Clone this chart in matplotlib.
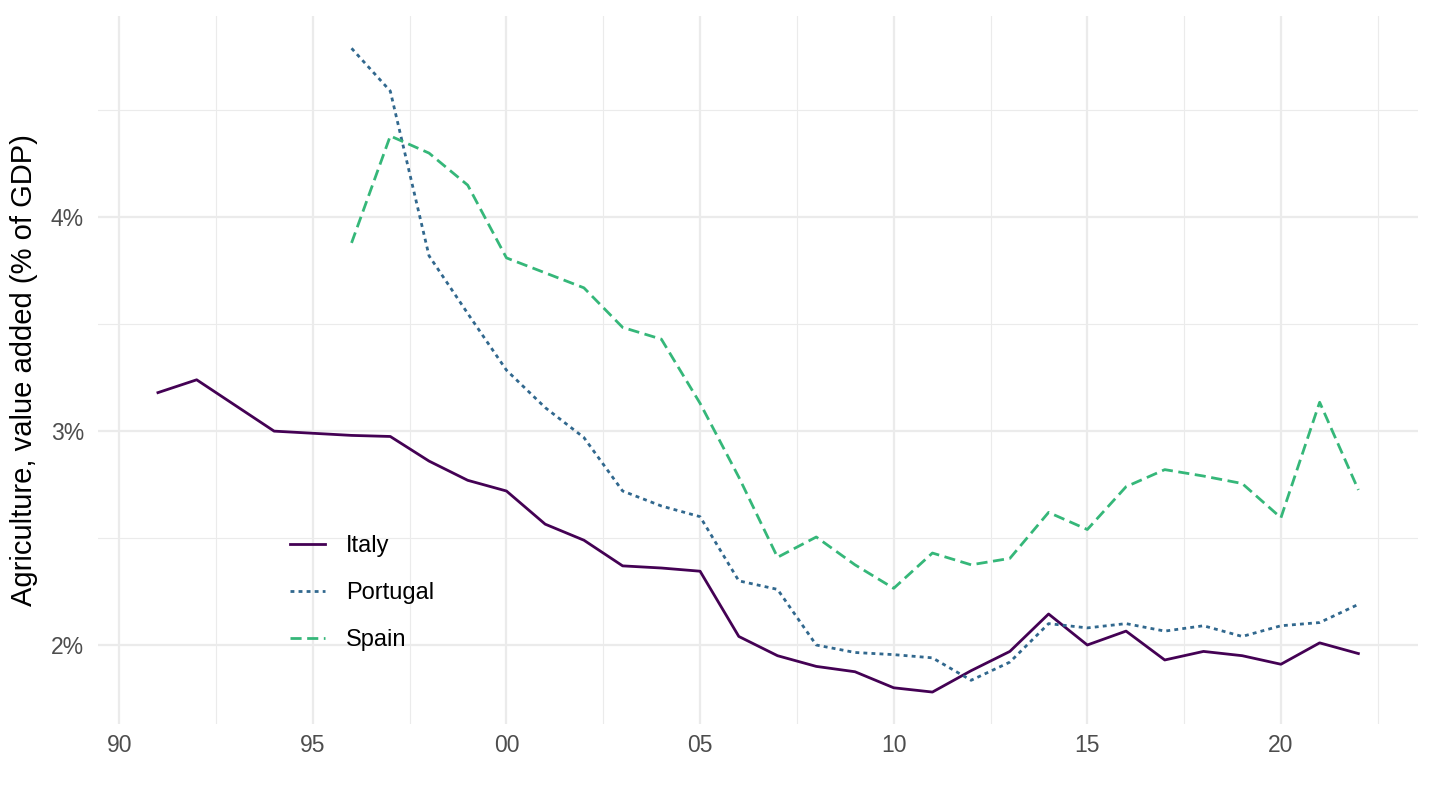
import numpy as np
import matplotlib.pyplot as plt

plt.rcParams['font.family'] = ['Liberation Sans', 'DejaVu Sans']

years_it = list(range(1991, 2023))
italy = [3.18, 3.24, 3.12, 3.00, 2.99, 2.98, 2.975, 2.86, 2.77, 2.72,
         2.565, 2.49, 2.37, 2.36, 2.345, 2.04, 1.95, 1.90, 1.875, 1.80,
         1.78, 1.88, 1.97, 2.145, 2.00, 2.065, 1.93, 1.97, 1.95, 1.91,
         2.01, 1.96]

years_pt = list(range(1996, 2023))
portugal = [4.79, 4.59, 3.82, 3.55, 3.285, 3.11, 2.97, 2.72, 2.65, 2.60,
            2.30, 2.26, 2.00, 1.965, 1.955, 1.94, 1.835, 1.92, 2.10, 2.08,
            2.10, 2.065, 2.09, 2.04, 2.09, 2.105, 2.19]

years_es = list(range(1996, 2023))
spain = [3.88, 4.38, 4.30, 4.15, 3.81, 3.74, 3.67, 3.485, 3.43, 3.13,
         2.785, 2.41, 2.505, 2.375, 2.265, 2.43, 2.375, 2.405, 2.62, 2.54,
         2.74, 2.82, 2.79, 2.755, 2.595, 3.135, 2.725]

x_ticks = [1990, 1995, 2000, 2005, 2010, 2015, 2020]
x_labels = ['90', '95', '00', '05', '10', '15', '20']
y_ticks = [2, 3, 4]
y_labels = ['2%', '3%', '4%']

fig = plt.figure(figsize=(14.4, 8.1), dpi=100)
ax = fig.add_axes([0.068, 0.106, 0.917, 0.874])

ax.plot(years_it, italy, color='#440154', lw=2.0, ls='-', label='Italy')
ax.plot(years_pt, portugal, color='#31688E', lw=2.0, ls=(0, (1.4, 1.5)), label='Portugal')
ax.plot(years_es, spain, color='#35B779', lw=2.0, ls=(0, (4, 2)), label='Spain')

ax.set_xlim(1989.45, 2023.55)
ax.set_ylim(1.63, 4.94)
ax.set_xticks(x_ticks)
ax.set_xticklabels(x_labels)
ax.set_xticks([1992.5, 1997.5, 2002.5, 2007.5, 2012.5, 2017.5, 2022.5], minor=True)
ax.set_yticks(y_ticks)
ax.set_yticklabels(y_labels)
ax.set_yticks([2.5, 3.5, 4.5], minor=True)

ax.grid(which='major', color='#ebebeb', lw=1.6)
ax.grid(which='minor', color='#ebebeb', lw=0.8)
ax.set_axisbelow(True)
for s in ax.spines.values():
    s.set_visible(False)
ax.tick_params(which='both', length=0, labelsize=16.5, labelcolor='#4d4d4d')
ax.tick_params(axis='x', pad=7)
ax.tick_params(axis='y', pad=10)
ax.set_ylabel('Agriculture, value added (% of GDP)', fontsize=21, labelpad=9)

ax.legend(loc='center', bbox_to_anchor=(0.2, 0.185), frameon=False, fontsize=17,
          handlelength=1.5, handletextpad=0.9, labelspacing=1.07)

fig.savefig('out.png', dpi=100)
